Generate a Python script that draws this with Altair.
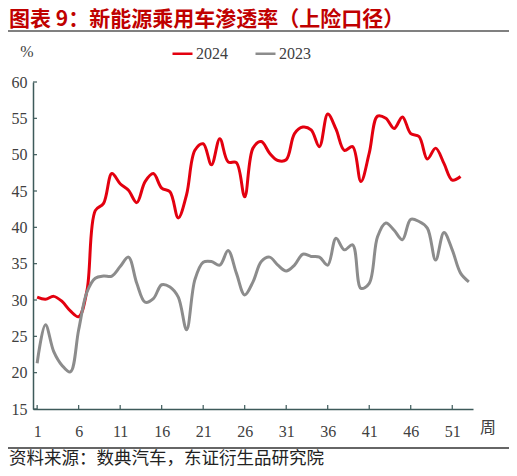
import altair as alt
import pandas as pd

# ---------------- data ----------------
series_names = ["2024", "2023"]
series_colors = ["#e3000f", "#8c8c8c"]

weeks_2024 = list(range(1, 53))
values_2024 = [30.4, 30.1, 30.5, 29.8, 28.5, 27.7, 31.3, 42.3, 43.3, 47.4,
               46.0, 45.1, 43.4, 46.3, 47.4, 45.4, 44.9, 41.3, 44.5, 50.6,
               51.5, 48.6, 52.2, 49.0, 48.9, 44.2, 50.9, 51.8, 50.2, 49.2,
               49.3, 52.9, 53.8, 53.4, 51.1, 55.6, 53.5, 50.6, 51.1, 46.3,
               50.2, 55.3, 55.0, 53.6, 55.2, 52.9, 52.5, 49.4, 50.9, 48.8,
               46.5, 47.0]

weeks_2023 = list(range(1, 54))
values_2023 = [21.3, 26.6, 22.9, 21.0, 20.1, 25.9, 31.1, 33.0, 33.3, 33.3,
               34.6, 35.9, 32.3, 29.7, 30.2, 32.1, 31.8, 30.4, 25.9, 32.8,
               35.2, 35.3, 34.8, 36.8, 33.7, 30.7, 32.5, 35.3, 35.9, 34.8,
               34.0, 34.8, 36.3, 36.0, 35.9, 34.8, 38.5, 36.9, 37.6, 31.6,
               32.3, 38.7, 40.6, 39.6, 38.3, 41.1, 40.8, 39.9, 35.5, 39.3,
               36.9, 33.7, 32.5]

x_ticks = [1, 6, 11, 16, 21, 26, 31, 36, 41, 46, 51]
y_ticks = [15, 20, 25, 30, 35, 40, 45, 50, 55, 60]

title_text = "图表 9：新能源乘用车渗透率（上险口径）"
source_text = "资料来源：数典汽车，东证衍生品研究院"
y_unit = "%"
x_unit = "周"

df = pd.concat([
    pd.DataFrame({"week": weeks_2024, "value": values_2024, "year": "2024"}),
    pd.DataFrame({"week": weeks_2023, "value": values_2023, "year": "2023"}),
])

# ---------------- chart ----------------
W, H = 440, 327
AX = "#3d5a5a"
LBL = "#404040"
SERIF = "Times New Roman"
CJK = "Noto Sans CJK SC"

xscale = alt.Scale(domain=[0.5, 53.5], nice=False, zero=False)
yscale = alt.Scale(domain=[15, 60], nice=False, zero=False)

x_axis = alt.Axis(values=x_ticks, title=None, grid=False, tickSize=0,
                  domainColor=AX, domainWidth=1.5, labelOverlap=False,
                  labelFont=SERIF, labelFontSize=16, labelColor=LBL,
                  labelPadding=14)
y_axis = alt.Axis(values=y_ticks, title=None, grid=False, tickSize=0,
                  domainColor=AX, domainWidth=1.5, labelOverlap=False,
                  labelFont=SERIF, labelFontSize=16, labelColor=LBL,
                  labelPadding=6)

lines = alt.Chart(df).mark_line(interpolate="catmull-rom", strokeWidth=3).encode(
    x=alt.X("week:Q", scale=xscale, axis=x_axis),
    y=alt.Y("value:Q", scale=yscale, axis=y_axis),
    color=alt.Color("year:N",
                    scale=alt.Scale(domain=series_names, range=series_colors),
                    sort=series_names,
                    legend=alt.Legend(orient="none", legendX=138, legendY=-40,
                                      direction="horizontal", title=None,
                                      symbolType="stroke", symbolSize=400,
                                      symbolStrokeWidth=2.5, labelFont=SERIF,
                                      labelFontSize=16, labelColor=LBL,
                                      labelOffset=2, columnPadding=22)),
    order=alt.Order("week:Q"),
)

ytick_marks = alt.Chart(pd.DataFrame({"yt": y_ticks})).mark_rule(
    color=AX, strokeWidth=1.2).encode(
    y=alt.Y("yt:Q", scale=yscale, axis=y_axis), x=alt.value(0), x2=alt.value(4))

xtick_marks = alt.Chart(pd.DataFrame({"xt": x_ticks})).mark_rule(
    color=AX, strokeWidth=1.2).encode(
    x=alt.X("xt:Q", scale=xscale, axis=x_axis), y=alt.value(H), y2=alt.value(H - 4))

one = pd.DataFrame({"t": [title_text]})

title = alt.Chart(one).mark_text(
    align="left", baseline="middle", font=CJK, fontWeight="bold",
    fontSize=21, color="#c00000").encode(
    x=alt.value(-24), y=alt.value(-62), text="t:N")

title_rule = alt.Chart(one).mark_rule(color="#808080", strokeWidth=2).encode(
    x=alt.value(-26), x2=alt.value(479), y=alt.value(-51))

foot_rule = alt.Chart(one).mark_rule(color="#333333", strokeWidth=1.3).encode(
    x=alt.value(-26), x2=alt.value(479), y=alt.value(366))

source = alt.Chart(pd.DataFrame({"t": [source_text]})).mark_text(
    align="left", baseline="middle", font=CJK, fontSize=17.5, color="#222222").encode(
    x=alt.value(-24), y=alt.value(377), text="t:N")

yunit = alt.Chart(pd.DataFrame({"t": [y_unit]})).mark_text(
    align="center", baseline="middle", font=SERIF, fontSize=16, color=LBL).encode(
    x=alt.value(-6), y=alt.value(-30), text="t:N")

xunit = alt.Chart(pd.DataFrame({"t": [x_unit]})).mark_text(
    align="center", baseline="middle", font=CJK, fontSize=16, color=LBL).encode(
    x=alt.value(455), y=alt.value(346), text="t:N")

chart = alt.layer(
    lines, ytick_marks, xtick_marks, title, title_rule, foot_rule, source, yunit, xunit
).properties(
    width=W, height=H,
    padding={"left": 25, "top": 74, "right": 36, "bottom": 59},
    autosize=alt.AutoSizeParams(type="none"),
).configure_view(stroke=None).configure_axis(
    labelFont=SERIF, labelOverlap=False
).configure_legend(labelFont=SERIF)

chart.save("out.html", embed_options={"renderer": "svg", "actions": False})
